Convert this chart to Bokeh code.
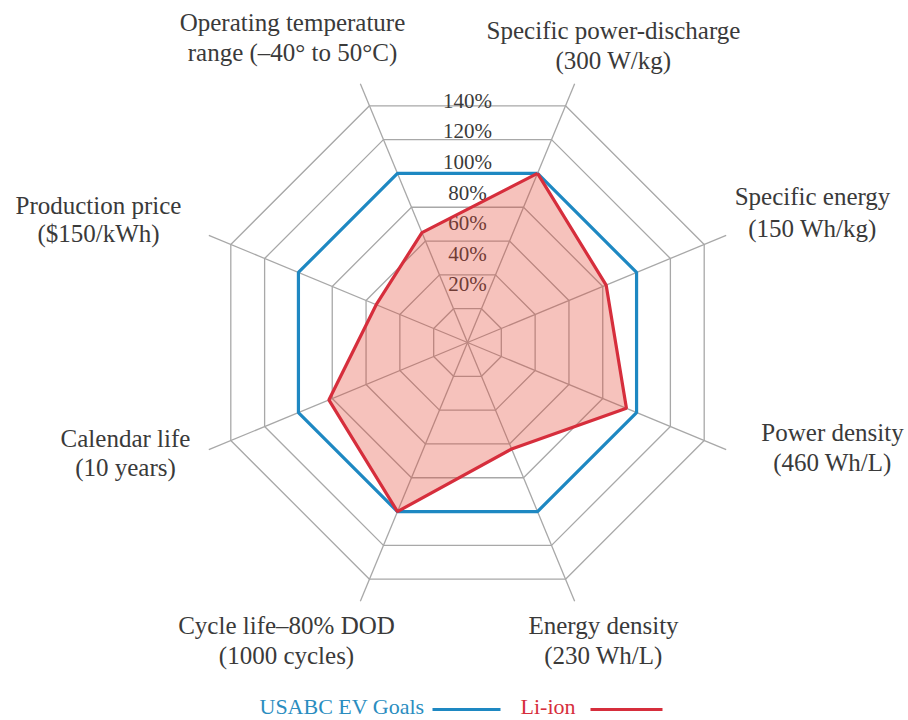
import numpy as np
from bokeh.plotting import figure
from bokeh.models import Range1d
from bokeh.core.properties import value
from bokeh.embed import file_html
from bokeh.resources import INLINE

# ---- data ----
axis_title = ["Specific power-discharge", "Specific energy", "Power density",
              "Energy density", "Cycle life\u201380% DOD", "Calendar life",
              "Production price", "Operating temperature"]
axis_sub = ["(300 W/kg)", "(150 Wh/kg)", "(460 Wh/L)", "(230 Wh/L)",
            "(1000 cycles)", "(10 years)", "($150/kWh)", "range (\u201340\u00b0 to 50\u00b0C)"]
usabc_goals = [100, 100, 100, 100, 100, 100, 100, 100]
li_ion = [100, 82, 94, 63, 100, 82, 54, 65]
ring_levels = [20, 40, 60, 80, 100, 120, 140]
ring_labels = ["20%", "40%", "60%", "80%", "100%", "120%", "140%"]

# ---- layout ----
S = 1.83                 # px per percent unit
CXs, CYs = 467, 342      # centre on screen
W, H = 908, 720
CX, CY = CXs, CYs
FONT = value("Liberation Serif")
SPOKE_LEN = 153

def to_data(sx, sy):
    return (sx - CXs) / S, (CYs - sy) / S

angles = np.deg2rad(67.5 - 45 * np.arange(8))

p = figure(width=W, height=H, x_axis_type=None, y_axis_type=None,
           x_range=Range1d(-CX / S, (W - CX) / S),
           y_range=Range1d(-(H - CY) / S, CY / S),
           output_backend="svg", toolbar_location=None, min_border=0)
p.grid.visible = False
p.outline_line_color = None
p.background_fill_color = "white"

def polar(vals):
    v = np.asarray(vals, dtype=float)
    return list(v * np.cos(angles)), list(v * np.sin(angles))

# rings
rx, ry = [], []
for lv in ring_levels:
    x, y = polar([lv] * 8)
    rx.append(x + [x[0]])
    ry.append(y + [y[0]])
p.multi_line(rx, ry, line_color="#a8a8a8", line_width=1.3)

# spokes
p.segment(x0=[0] * 8, y0=[0] * 8,
          x1=list(SPOKE_LEN * np.cos(angles)), y1=list(SPOKE_LEN * np.sin(angles)),
          line_color="#a8a8a8", line_width=1.3)

# ring labels (under fill)
lab_y = [0.8375 * v + 14.95 for v in ring_levels]
p.text(x=[0] * len(ring_levels), y=lab_y, text=ring_labels,
       text_font=FONT, text_font_size="21px", text_color="#3a3a3a",
       text_align="center", text_baseline="middle")

# li-ion fill
lx, ly = polar(li_ion)
p.patch(lx, ly, fill_color="#e4402f", fill_alpha=0.32, line_color=None)

# usabc goals
ux, uy = polar(usabc_goals)
p.line(ux + [ux[0]], uy + [uy[0]], line_color="#1e88c2", line_width=3.2)
# li-ion line
p.line(lx + [lx[0]], ly + [ly[0]], line_color="#d62e3c", line_width=3.2)

# axis labels (screen centres of the two lines)
label_px = [(613, 30, 60), (812, 196, 228), (832, 432, 462), (603, 625, 655),
            (286, 625, 655), (125, 438, 467), (98, 205, 233), (292, 22, 52)]
t1x, t1y, t2x, t2y = [], [], [], []
for (sx, sy1, sy2) in label_px:
    a, b = to_data(sx, sy1)
    c, d = to_data(sx, sy2)
    t1x.append(a); t1y.append(b); t2x.append(c); t2y.append(d)
p.text(x=t1x, y=t1y, text=axis_title, text_font=FONT, text_font_size="25px",
       text_color="#3a3a3a", text_align="center", text_baseline="middle")
p.text(x=t2x, y=t2y, text=axis_sub, text_font=FONT, text_font_size="25px",
       text_color="#3a3a3a", text_align="center", text_baseline="middle")

# legend
lgx, lgy = to_data(424, 706)
p.text(x=[lgx], y=[lgy], text=["USABC EV Goals"], text_font=FONT, text_font_size="22px",
       text_color="#2a8dbf", text_align="right", text_baseline="middle")
b0 = to_data(432, 709); b1 = to_data(500, 709)
p.segment(x0=[b0[0]], y0=[b0[1]], x1=[b1[0]], y1=[b1[1]], line_color="#1e88c2", line_width=3)
lix, liy = to_data(520, 706)
p.text(x=[lix], y=[liy], text=["Li-ion"], text_font=FONT, text_font_size="22px",
       text_color="#d62e3c", text_align="left", text_baseline="middle")
r0 = to_data(590, 709); r1 = to_data(662, 709)
p.segment(x0=[r0[0]], y0=[r0[1]], x1=[r1[0]], y1=[r1[1]], line_color="#d62e3c", line_width=3)

open("out.html", "w").write(file_html(p, INLINE))
